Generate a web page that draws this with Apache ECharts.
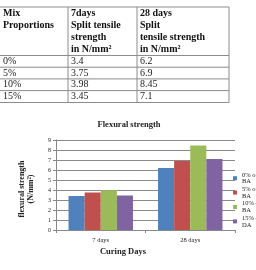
<!DOCTYPE html>
<html><head><meta charset="utf-8">
<script src="https://cdn.jsdelivr.net/npm/echarts@6/dist/echarts.min.js"></script>
<style>html,body{margin:0;padding:0;background:#fff}#c{width:256px;height:270px}</style>
</head><body><div id="c"></div>
<script>
// ---- data ----
const mixLabels = ['0%', '5%', '10%', '15%'];
const split7 = [3.4, 3.75, 3.98, 3.45];
const split28 = [6.2, 6.9, 8.45, 7.1];
const headerCol1 = ['Mix', 'Proportions'];
const headerCol2 = ['7days', 'Split tensile', 'strength', 'in N/mm\u00b2'];
const headerCol3 = ['28 days', 'Split', 'tensile strength', 'in N/mm\u00b2'];
const categories = ['7 days', '28 days'];
const seriesNames = ['0% of BA', '5% of BA', '10% of BA', '15% of DA'];
const yTicks = [0, 1, 2, 3, 4, 5, 6, 7, 8, 9];
const chartTitle = 'Flexural strength';
const xTitle = 'Curing Days';
const yTitle = 'flexural strength\n(N/mm\u00b2)';
const colors = ['#4F81BD', '#C0504D', '#9BBB59', '#8064A2'];

// ---- table graphics ----
const serif = '"Liberation Serif","DejaVu Serif",serif';
const colX = [0, 68, 137, 229];
const rowY = [7, 55.5, 67.2, 78.9, 90.6, 102.5];
const lineColor = '#8c8c8c';
const g = [];
rowY.forEach(y => g.push({type:'line', shape:{x1:0, y1:y, x2:colX[3], y2:y}, style:{stroke:lineColor, lineWidth:1}}));
[colX[1], colX[2], colX[3]].forEach(x => g.push({type:'line', shape:{x1:x, y1:rowY[0], x2:x, y2:rowY[rowY.length-1]}, style:{stroke:lineColor, lineWidth:1}}));
const headers = [headerCol1, headerCol2, headerCol3];
headers.forEach((lines, ci) => {
  lines.forEach((t, li) => g.push({type:'text', x: colX[ci] + 3, y: 13 + li * 12,
    style:{text:t, font:'bold 10px ' + serif, fill:'#111', verticalAlign:'middle', align:'left'}}));
});
mixLabels.forEach((m, ri) => {
  const cy = (rowY[ri + 1] + rowY[ri + 2]) / 2;
  [m, String(split7[ri]), String(split28[ri])].forEach((t, ci) => g.push({type:'text', x: colX[ci] + 3, y: cy,
    style:{text:t, font:'10px ' + serif, fill:'#222', verticalAlign:'middle', align:'left'}}));
});
g.push({type:'text', x:129, y:125, style:{text:chartTitle, font:'bold 8.5px ' + serif, fill:'#222', align:'center', verticalAlign:'middle'}});
g.push({type:'text', x:123, y:251.5, style:{text:xTitle, font:'bold 8.5px ' + serif, fill:'#222', align:'center', verticalAlign:'middle'}});

const series = seriesNames.map((n, i) => ({
  name: n, type: 'bar', data: [split7[i], split28[i]],
  itemStyle: {color: colors[i]}, barGap: '0%', barCategoryGap: '28%', animation: false
}));

const chart = echarts.init(document.getElementById('c'), null, {renderer: 'canvas'});
chart.setOption({
  animation: false,
  grid: {left: 56, right: 21, top: 140, bottom: 40, containLabel: false},
  legend: {
    orient: 'vertical', left: 233, top: 168, itemWidth: 4, itemHeight: 4, itemGap: -6,
    icon: 'rect', data: seriesNames, padding: 0,
    formatter: n => { const k = n.lastIndexOf(' '); return n.slice(0, k) + '\n' + n.slice(k + 1); },
    textStyle: {fontSize: 6.5, lineHeight: 6.8, fontFamily: serif, color: '#222', padding: [6.8, 0, 0, 0]},
    itemStyle: {borderWidth: 0}
  },
  xAxis: {
    type: 'category', data: categories,
    axisLine: {lineStyle: {color: '#888', width: 1}},
    axisTick: {show: true, length: 3, lineStyle: {color: '#888'}},
    axisLabel: {fontSize: 6.5, fontFamily: serif, color: '#222', margin: 7}
  },
  yAxis: {
    type: 'value', min: yTicks[0], max: yTicks[yTicks.length - 1], interval: 1,
    name: yTitle, nameLocation: 'middle', nameRotate: 90, nameGap: 21,
    nameTextStyle: {fontSize: 8, fontWeight: 'bold', fontFamily: serif, color: '#222', lineHeight: 9, padding: [0, 8, 0, 0]},
    axisLine: {show: true, lineStyle: {color: '#888', width: 1}},
    axisTick: {show: true, length: 3, lineStyle: {color: '#888'}},
    axisLabel: {fontSize: 6, fontFamily: serif, color: '#222', margin: 5},
    splitLine: {lineStyle: {color: '#8a8a8a', width: 1}}
  },
  series: series,
  graphic: g
});
</script></body></html>
